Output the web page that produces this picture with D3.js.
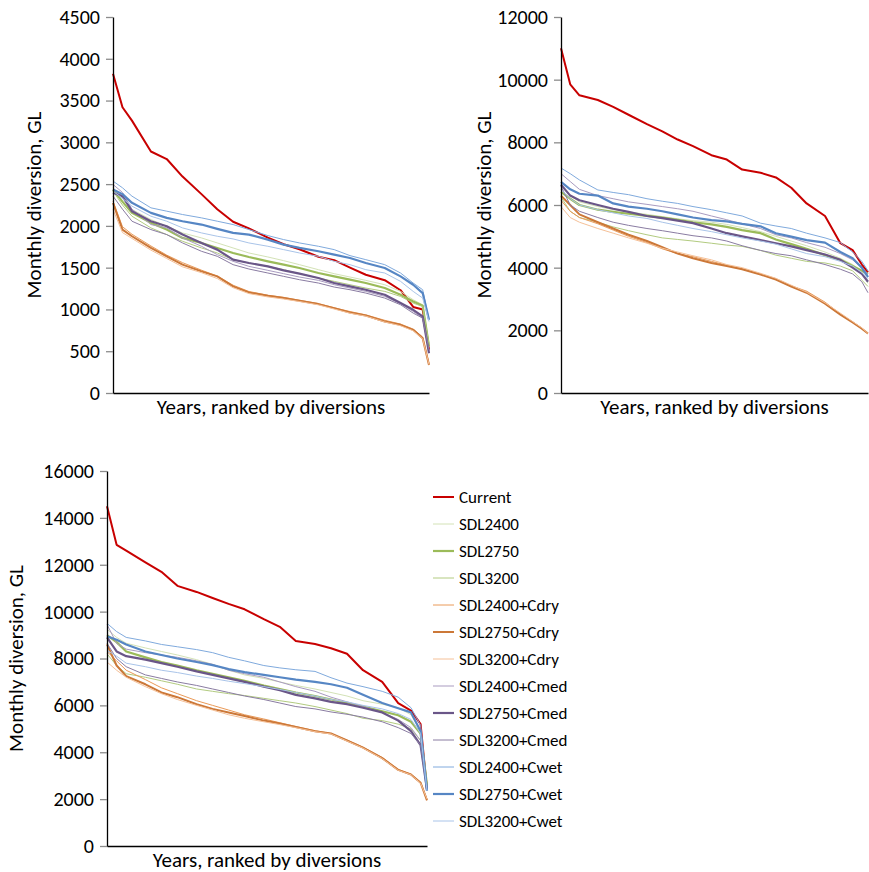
<!DOCTYPE html>
<html>
<head>
<meta charset="utf-8">
<script src="https://cdn.jsdelivr.net/npm/d3@7"></script>
<style>
  body { margin: 0; background: #fff; }
  svg { font-family: Carlito, Lato, sans-serif; }
</style>
</head>
<body>
<div id="chart"></div>
<script>
// ranked position along the x axis, % of years
const rankPct = [0, 3, 6, 12, 17, 22, 28, 33, 38, 43, 49, 54, 59, 65, 70, 75, 80, 86, 91, 95, 98, 100]

const seriesNames = ['Current', 'SDL2400', 'SDL2750', 'SDL3200',
  'SDL2400+Cdry', 'SDL2750+Cdry', 'SDL3200+Cdry',
  'SDL2400+Cmed', 'SDL2750+Cmed', 'SDL3200+Cmed',
  'SDL2400+Cwet', 'SDL2750+Cwet', 'SDL3200+Cwet']

const ticks1 = [0, 500, 1000, 1500, 2000, 2500, 3000, 3500, 4000, 4500]
const ticks2 = [0, 2000, 4000, 6000, 8000, 10000, 12000]
const ticks3 = [0, 2000, 4000, 6000, 8000, 10000, 12000, 14000, 16000]

// monthly diversion, GL - one row per series, same order as seriesNames
const panel1Values = [
  [3820, 3420, 3260, 2890, 2800, 2590, 2380, 2200, 2050, 1970, 1860, 1780, 1720, 1630, 1590, 1500, 1415, 1350, 1230, 1030, 1000, 520],
  [2456, 2330, 2196, 2076, 1996, 1916, 1856, 1796, 1736, 1676, 1628, 1584, 1536, 1476, 1428, 1388, 1348, 1296, 1216, 1116, 1056, 596],
  [2436, 2290, 2156, 2036, 1956, 1856, 1796, 1736, 1676, 1628, 1576, 1536, 1496, 1436, 1396, 1356, 1316, 1256, 1176, 1096, 1044, 556],
  [2416, 2250, 2116, 1976, 1896, 1816, 1736, 1676, 1596, 1556, 1516, 1476, 1428, 1376, 1336, 1296, 1256, 1216, 1156, 1076, 1036, 576],
  [2296, 1990, 1900, 1760, 1650, 1560, 1470, 1400, 1290, 1215, 1170, 1145, 1110, 1070, 1020, 975, 935, 870, 825, 765, 670, 350],
  [2276, 1956, 1876, 1736, 1636, 1536, 1456, 1396, 1276, 1204, 1164, 1136, 1104, 1064, 1016, 964, 928, 856, 816, 756, 656, 336],
  [2196, 1920, 1850, 1710, 1610, 1510, 1440, 1370, 1260, 1190, 1150, 1125, 1095, 1055, 1005, 955, 920, 850, 805, 745, 650, 340],
  [2496, 2400, 2200, 2016, 1976, 1856, 1756, 1656, 1576, 1516, 1468, 1428, 1388, 1348, 1296, 1256, 1216, 1156, 1068, 976, 896, 496],
  [2396, 2356, 2176, 2056, 1996, 1896, 1796, 1716, 1596, 1556, 1516, 1468, 1428, 1376, 1316, 1276, 1236, 1176, 1076, 996, 916, 476],
  [2356, 2200, 2056, 1956, 1896, 1796, 1696, 1636, 1536, 1484, 1436, 1396, 1356, 1316, 1268, 1236, 1196, 1136, 1056, 956, 896, 516],
  [2536, 2456, 2356, 2216, 2176, 2136, 2096, 2056, 2016, 1956, 1884, 1836, 1796, 1756, 1716, 1644, 1596, 1536, 1436, 1316, 1236, 876],
  [2436, 2380, 2276, 2156, 2096, 2056, 2016, 1964, 1916, 1896, 1836, 1776, 1736, 1696, 1656, 1616, 1556, 1496, 1396, 1296, 1196, 876],
  [2416, 2330, 2236, 2116, 2056, 1976, 1916, 1876, 1844, 1796, 1756, 1716, 1676, 1636, 1576, 1536, 1476, 1436, 1336, 1216, 1136, 856]
]

const panel2Values = [
  [11000, 9850, 9500, 9350, 9130, 8880, 8580, 8350, 8090, 7880, 7590, 7450, 7130, 7030, 6880, 6550, 6050, 5650, 4780, 4560, 4100, 3850],
  [6600, 6300, 6100, 5950, 5850, 5780, 5700, 5630, 5560, 5500, 5450, 5380, 5280, 5150, 5000, 4850, 4700, 4500, 4300, 4100, 3850, 3500],
  [6420, 6200, 6000, 5850, 5780, 5720, 5650, 5600, 5530, 5450, 5380, 5300, 5200, 5100, 4900, 4750, 4600, 4400, 4250, 4050, 3900, 3800],
  [6250, 5800, 5600, 5450, 5300, 5180, 5050, 4950, 4900, 4850, 4780, 4720, 4680, 4550, 4400, 4300, 4200, 4150, 4050, 3900, 3600, 3400],
  [6150, 5800, 5600, 5400, 5200, 5000, 4800, 4600, 4450, 4350, 4200, 4080, 3970, 3800, 3650, 3420, 3250, 2900, 2520, 2270, 2070, 1880],
  [6300, 6000, 5700, 5450, 5250, 5050, 4850, 4650, 4450, 4300, 4150, 4050, 3950, 3780, 3620, 3400, 3200, 2850, 2500, 2250, 2050, 1900],
  [5950, 5600, 5450, 5250, 5100, 4950, 4780, 4620, 4500, 4380, 4250, 4100, 4000, 3820, 3660, 3440, 3220, 2880, 2550, 2280, 2080, 1900],
  [7000, 6750, 6500, 6300, 6200, 6100, 6020, 5950, 5880, 5800, 5650, 5530, 5400, 5250, 5050, 4950, 4800, 4650, 4450, 4250, 4000, 3800],
  [6650, 6300, 6150, 6000, 5880, 5780, 5650, 5580, 5500, 5420, 5250, 5100, 5000, 4880, 4780, 4680, 4560, 4420, 4250, 4000, 3800, 3550],
  [6600, 6000, 5800, 5600, 5450, 5350, 5250, 5180, 5100, 5020, 4950, 4850, 4700, 4550, 4450, 4380, 4250, 4100, 3950, 3800, 3550, 3200],
  [7180, 7000, 6800, 6480, 6400, 6330, 6200, 6120, 6050, 5950, 5850, 5750, 5650, 5420, 5330, 5250, 5100, 4950, 4800, 4500, 4200, 3900],
  [6740, 6500, 6360, 6300, 6050, 5950, 5880, 5800, 5700, 5600, 5520, 5480, 5400, 5320, 5100, 4990, 4880, 4800, 4500, 4300, 4000, 3700],
  [6500, 6200, 6000, 5850, 5750, 5650, 5570, 5450, 5350, 5250, 5150, 5050, 4950, 4850, 4750, 4600, 4450, 4350, 4200, 4050, 3850, 3650]
]

const panel3Values = [
  [14500, 12850, 12600, 12100, 11700, 11100, 10840, 10580, 10330, 10100, 9680, 9350, 8750, 8620, 8440, 8200, 7500, 7000, 6100, 5780, 5200, 2400],
  [9250, 8900, 8650, 8450, 8300, 8150, 7950, 7750, 7500, 7300, 7150, 7000, 6850, 6700, 6550, 6400, 6200, 6050, 5900, 5600, 4900, 2500],
  [9000, 8700, 8300, 8050, 7850, 7700, 7500, 7350, 7200, 7050, 6850, 6700, 6550, 6400, 6250, 6100, 5950, 5750, 5580, 5300, 4800, 2600],
  [8200, 7700, 7350, 7200, 7050, 6900, 6700, 6600, 6500, 6420, 6300, 6200, 6100, 5950, 5800, 5650, 5450, 5350, 5200, 5000, 4500, 2600],
  [8300, 7900, 7500, 7100, 6750, 6500, 6200, 6000, 5800, 5600, 5420, 5260, 5100, 4920, 4800, 4520, 4220, 3780, 3270, 3060, 2720, 2000],
  [8600, 7700, 7250, 6900, 6550, 6350, 6050, 5850, 5700, 5550, 5350, 5230, 5080, 4900, 4800, 4500, 4200, 3750, 3250, 3050, 2700, 1950],
  [7850, 7500, 7200, 6800, 6500, 6250, 6000, 5800, 5600, 5450, 5300, 5180, 5050, 4880, 4780, 4480, 4180, 3730, 3230, 3040, 2680, 2000],
  [9450, 8650, 8400, 8250, 8150, 8050, 7900, 7750, 7500, 7350, 7200, 7000, 6800, 6600, 6350, 6150, 5950, 5700, 5400, 5050, 4500, 2400],
  [8900, 8300, 8100, 7950, 7800, 7650, 7450, 7300, 7150, 7000, 6800, 6650, 6450, 6300, 6150, 6050, 5900, 5700, 5350, 4900, 4300, 2400],
  [8650, 8000, 7650, 7300, 7150, 7000, 6850, 6700, 6550, 6400, 6250, 6100, 5950, 5850, 5720, 5620, 5500, 5300, 5050, 4800, 4300, 2400],
  [9500, 9150, 8900, 8750, 8600, 8500, 8380, 8250, 8050, 7900, 7700, 7600, 7520, 7450, 7180, 6950, 6800, 6600, 6350, 5900, 5150, 2500],
  [8950, 8800, 8600, 8300, 8150, 8000, 7850, 7720, 7550, 7420, 7300, 7200, 7100, 7000, 6900, 6750, 6450, 6100, 5880, 5700, 4900, 2350],
  [8350, 8100, 7800, 7650, 7500, 7400, 7250, 7150, 7030, 6930, 6800, 6680, 6550, 6400, 6250, 6150, 6000, 5850, 5650, 5400, 4800, 2350]
]

const seriesStyle = [
  { color: '#c80000', width: 2 },
  { color: '#d3e2b6', width: 1 },
  { color: '#9bbb59', width: 2.2 },
  { color: '#b2cb80', width: 1 },
  { color: '#ea9a58', width: 1 },
  { color: '#cc7838', width: 2 },
  { color: '#f5c097', width: 1 },
  { color: '#a99bc0', width: 1 },
  { color: '#6a5688', width: 2.2 },
  { color: '#8a7ca2', width: 1 },
  { color: '#80aadd', width: 1 },
  { color: '#5686c4', width: 2.2 },
  { color: '#a9c4e9', width: 1 }
]

const panels = [
  { values: panel1Values, ticks: ticks1, left: 113, right: 429, top: 17, bottom: 393, titleGap: 72 },
  { values: panel2Values, ticks: ticks2, left: 561, right: 868, top: 17, bottom: 393, titleGap: 70 },
  { values: panel3Values, ticks: ticks3, left: 107, right: 427, top: 471, bottom: 846, titleGap: 84 }
]

const svg = d3.select('#chart').append('svg')
  .attr('width', 869)
  .attr('height', 872)

panels.forEach(p => {
  const x = d3.scaleLinear().domain([0, 100]).range([p.left, p.right])
  const y = d3.scaleLinear().domain([0, d3.max(p.ticks)]).range([p.bottom, p.top])

  const line = d3.line()
    .x((d, i) => x(rankPct[i]))
    .y(d => y(d))

  const g = svg.append('g')

  g.selectAll('path.series')
    .data(p.values)
    .enter()
    .append('path')
    .attr('class', 'series')
    .attr('fill', 'none')
    .attr('stroke', (d, i) => seriesStyle[i].color)
    .attr('stroke-width', (d, i) => seriesStyle[i].width)
    .attr('stroke-linejoin', 'round')
    .attr('d', line)

  const yAxis = g.append('g')
    .attr('transform', `translate(${p.left},0)`)
    .call(d3.axisLeft(y).tickValues(p.ticks).tickFormat(d3.format('d'))
      .tickSize(7).tickSizeOuter(0).tickPadding(6))
  yAxis.select('.domain').attr('stroke', '#000').attr('stroke-width', 1.3)
  yAxis.selectAll('.tick line').attr('stroke', '#8c8c8c').attr('stroke-width', 1.3)
  yAxis.selectAll('.tick text')
    .attr('font-size', 20)
    .attr('fill', '#000')
    .attr('font-family', 'Carlito, Lato, sans-serif')

  const xAxis = g.append('g')
    .attr('transform', `translate(0,${p.bottom})`)
    .call(d3.axisBottom(x).tickValues([]).tickSizeOuter(0))
  xAxis.select('.domain').attr('stroke', '#000').attr('stroke-width', 1.3)

  g.append('text')
    .attr('transform', `translate(${p.left - p.titleGap},${(p.top + p.bottom) / 2}) rotate(-90)`)
    .attr('text-anchor', 'middle')
    .attr('font-size', 21)
    .text('Monthly diversion, GL')

  g.append('text')
    .attr('x', (p.left + p.right) / 2)
    .attr('y', p.bottom + 21)
    .attr('text-anchor', 'middle')
    .attr('font-size', 21)
    .text('Years, ranked by diversions')
})

// legend
const legend = svg.append('g').attr('transform', 'translate(433,497)')
const items = legend.selectAll('g')
  .data(seriesNames)
  .enter()
  .append('g')
  .attr('transform', (d, i) => `translate(0,${i * 27})`)

items.append('line')
  .attr('x1', 0).attr('x2', 21)
  .attr('stroke', (d, i) => seriesStyle[i].color)
  .attr('stroke-width', (d, i) => seriesStyle[i].width)

items.append('text')
  .attr('x', 26)
  .attr('dy', '0.35em')
  .attr('font-size', 17)
  .text(d => d)
</script>
</body>
</html>
